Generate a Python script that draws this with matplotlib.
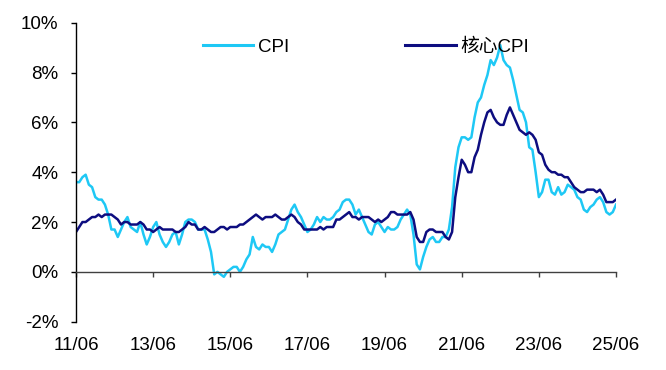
import matplotlib
matplotlib.use("Agg")
import matplotlib.pyplot as plt
import numpy as np

# Monthly YoY %, 2011-06 .. 2025-06
cpi = [
    3.6, 3.6, 3.8, 3.9, 3.5, 3.4, 3.0,                                  # 2011 Jun-Dec
    2.9, 2.9, 2.7, 2.3, 1.7, 1.7, 1.4, 1.7, 2.0, 2.2, 1.8, 1.7,          # 2012
    1.6, 2.0, 1.5, 1.1, 1.4, 1.8, 2.0, 1.5, 1.2, 1.0, 1.2, 1.5,          # 2013
    1.6, 1.1, 1.5, 2.0, 2.1, 2.1, 2.0, 1.7, 1.7, 1.7, 1.3, 0.8,          # 2014
    -0.1, 0.0, -0.1, -0.2, 0.0, 0.1, 0.2, 0.2, 0.0, 0.2, 0.5, 0.7,       # 2015
    1.4, 1.0, 0.9, 1.1, 1.0, 1.0, 0.8, 1.1, 1.5, 1.6, 1.7, 2.1,          # 2016
    2.5, 2.7, 2.4, 2.2, 1.9, 1.6, 1.7, 1.9, 2.2, 2.0, 2.2, 2.1,          # 2017
    2.1, 2.2, 2.4, 2.5, 2.8, 2.9, 2.9, 2.7, 2.3, 2.5, 2.2, 1.9,          # 2018
    1.6, 1.5, 1.9, 2.0, 1.8, 1.6, 1.8, 1.7, 1.7, 1.8, 2.1, 2.3,          # 2019
    2.5, 2.3, 1.5, 0.3, 0.1, 0.6, 1.0, 1.3, 1.4, 1.2, 1.2, 1.4,          # 2020
    1.4, 1.7, 2.6, 4.2, 5.0, 5.4, 5.4, 5.3, 5.4, 6.2, 6.8, 7.0,          # 2021
    7.5, 7.9, 8.5, 8.3, 8.6, 9.1, 8.5, 8.3, 8.2, 7.7, 7.1, 6.5,          # 2022
    6.4, 6.0, 5.0, 4.9, 4.0, 3.0, 3.2, 3.7, 3.7, 3.2, 3.1, 3.4,          # 2023
    3.1, 3.2, 3.5, 3.4, 3.3, 3.0, 2.9, 2.5, 2.4, 2.6, 2.7, 2.9,          # 2024
    3.0, 2.8, 2.4, 2.3, 2.4, 2.7,                                        # 2025 Jan-Jun
]
core_cpi = [
    1.6, 1.8, 2.0, 2.0, 2.1, 2.2, 2.2,
    2.3, 2.2, 2.3, 2.3, 2.3, 2.2, 2.1, 1.9, 2.0, 2.0, 1.9, 1.9,
    1.9, 2.0, 1.9, 1.7, 1.7, 1.6, 1.7, 1.8, 1.7, 1.7, 1.7, 1.7,
    1.6, 1.6, 1.7, 1.8, 2.0, 1.9, 1.9, 1.7, 1.7, 1.8, 1.7, 1.6,
    1.6, 1.7, 1.8, 1.8, 1.7, 1.8, 1.8, 1.8, 1.9, 1.9, 2.0, 2.1,
    2.2, 2.3, 2.2, 2.1, 2.2, 2.2, 2.2, 2.3, 2.2, 2.1, 2.1, 2.2,
    2.3, 2.2, 2.0, 1.9, 1.7, 1.7, 1.7, 1.7, 1.7, 1.8, 1.7, 1.8,
    1.8, 1.8, 2.1, 2.1, 2.2, 2.3, 2.4, 2.2, 2.2, 2.1, 2.2, 2.2,
    2.2, 2.1, 2.0, 2.1, 2.0, 2.1, 2.2, 2.4, 2.4, 2.3, 2.3, 2.3,
    2.3, 2.4, 2.1, 1.4, 1.2, 1.2, 1.6, 1.7, 1.7, 1.6, 1.6, 1.6,
    1.4, 1.3, 1.6, 3.0, 3.8, 4.5, 4.3, 4.0, 4.0, 4.6, 4.9, 5.5,
    6.0, 6.4, 6.5, 6.2, 6.0, 5.9, 5.9, 6.3, 6.6, 6.3, 6.0, 5.7,
    5.6, 5.5, 5.6, 5.5, 5.3, 4.8, 4.7, 4.3, 4.1, 4.0, 4.0, 3.9,
    3.9, 3.8, 3.8, 3.6, 3.4, 3.3, 3.2, 3.2, 3.3, 3.3, 3.3, 3.2,
    3.3, 3.1, 2.8, 2.8, 2.8, 2.9,
]
x_tick_labels = ["11/06", "13/06", "15/06", "17/06", "19/06", "21/06", "23/06", "25/06"]
y_ticks = [-2, 0, 2, 4, 6, 8, 10]
series_names = ["CPI", "核心CPI"]

plt.rcParams['font.family'] = ['Liberation Sans', 'Noto Sans CJK SC', 'DejaVu Sans']

W, H = 666, 370
fig = plt.figure(figsize=(W / 100, H / 100), dpi=100)
ax = fig.add_axes([76 / W, (H - 321.7) / H, 540 / W, 299 / H])

months = np.arange(len(cpi))
ax.plot(months, cpi, color='#1EC8F5', lw=1.8, label=series_names[0], solid_joinstyle='round')
ax.plot(months, core_cpi, color='#0D0D80', lw=1.8, label=series_names[1], solid_joinstyle='round')

ax.set_xlim(0, len(cpi) - 1)
ax.set_ylim(-2, 10)

ax.set_yticks(y_ticks)
ax.set_yticklabels([f"{v}%" for v in y_ticks])
ax.set_xticks(np.arange(0, len(cpi), 24))
ax.set_xticklabels(x_tick_labels)

for s in ['top', 'right']:
    ax.spines[s].set_visible(False)
ax.spines['bottom'].set_position(('data', 0))
ax.spines['bottom'].set_color('#404040')
ax.spines['bottom'].set_linewidth(1.0)
ax.spines['left'].set_color('black')
ax.spines['left'].set_linewidth(1.0)

ax.tick_params(axis='y', direction='out', length=3.6, width=1.0, pad=9, labelsize=13.5, colors='black')
ax.tick_params(axis='x', direction='out', length=3.6, width=1.0, pad=43, labelsize=13.5,
               color='#404040', labelcolor='black')

leg = ax.legend(ncol=2, frameon=False, loc='center left',
                bbox_to_anchor=(203 / W, 1 - 47 / H), bbox_transform=fig.transFigure,
                borderpad=0, borderaxespad=0, handlelength=2.67, handletextpad=0.27,
                columnspacing=6.19, fontsize=13.5)
for line in leg.get_lines():
    line.set_linewidth(2.2)

fig.savefig("out.png", dpi=100)
